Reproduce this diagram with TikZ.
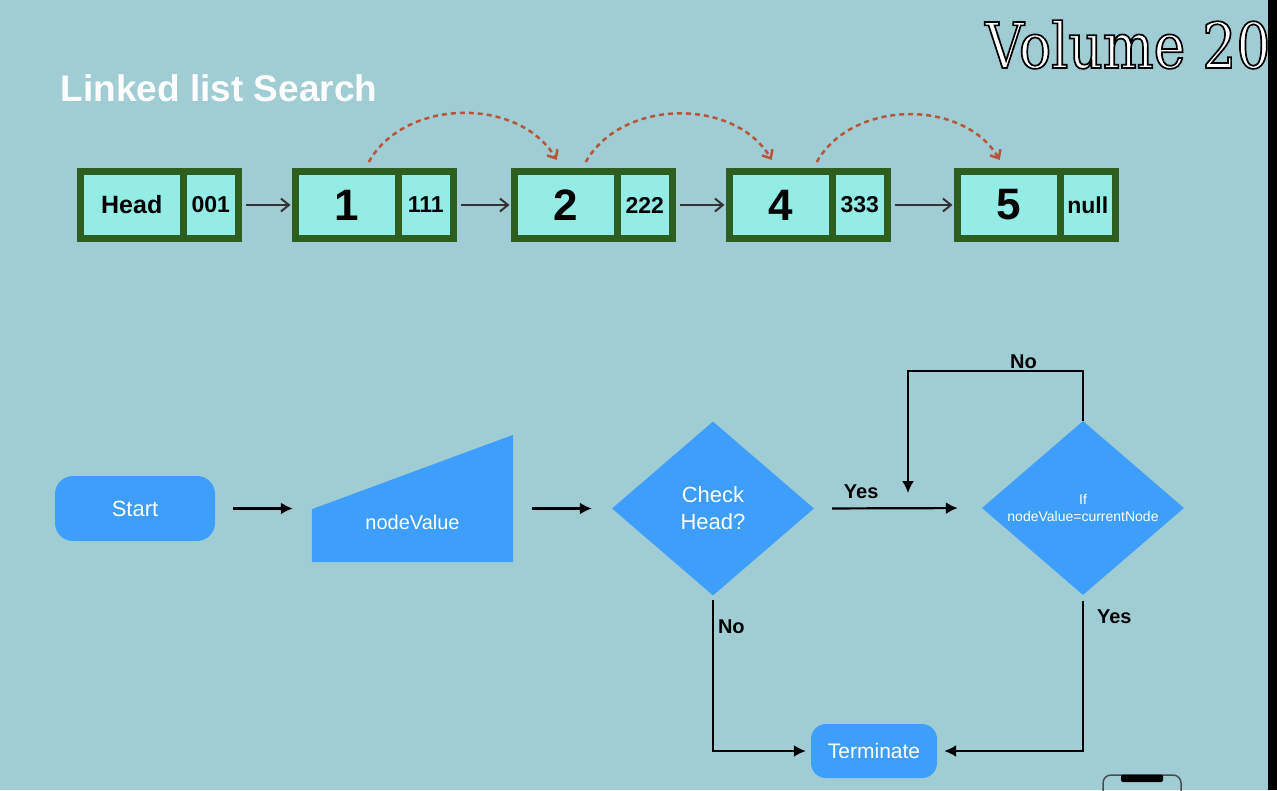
\documentclass[tikz,border=0pt]{standalone}
\usepackage{fontspec}
\setmainfont{Liberation Sans}
\newfontfamily\wmfont[FakeStretch=0.85]{DejaVu Serif}
\usepackage{tikz}
\usetikzlibrary{positioning,arrows.meta,shapes.geometric}

\definecolor{bgteal}{HTML}{A0CDD4}
\definecolor{cellfill}{HTML}{93ECE6}
\definecolor{cellgreen}{HTML}{2D5E20}
\definecolor{flowblue}{HTML}{3D9EFC}
\definecolor{hopred}{HTML}{B85438}
\newcommand{\outlinetext}[1]{\special{pdf:literal direct 2 Tr 1.7 w 0 0 0 RG}#1\special{pdf:literal direct 0 Tr 1 w}}

\begin{document}
\begin{tikzpicture}[
  x=1pt, y=-1pt,
  cell/.style={draw=cellgreen, fill=cellfill, line width=7pt, inner sep=0pt,
               outer sep=0pt, minimum height=67pt},
  datacell/.style={cell, minimum width=102.5pt},
  ptrcell/.style={cell, minimum width=55.5pt, font=\fontsize{23}{23}\selectfont\bfseries},
  listarrow/.style={-{Straight Barb[length=8pt,width=13pt]}, line width=2pt, draw=black!80},
  hop/.style={-{Straight Barb[length=7pt,width=12pt]}, line width=2.5pt, draw=hopred,
              dash pattern=on 5pt off 4pt},
  terminal/.style={fill=flowblue, rounded corners=18pt, text=white, inner sep=0pt,
                   minimum width=160pt, minimum height=65pt, font=\fontsize{22}{26}\selectfont},
  decision/.style={diamond, aspect=1.16, fill=flowblue, text=white, align=center,
                   inner sep=0pt, minimum width=202pt, minimum height=174pt},
  flowtext/.style={text=white, inner sep=0pt, font=\fontsize{20}{24}\selectfont},
  edgelabel/.style={text=black, inner sep=1pt, font=\fontsize{20}{24}\selectfont\bfseries},
  flow/.style={-{Latex[length=12pt,width=12pt]}, line width=2.2pt, draw=black},
  wmark/.style={anchor=base west, inner sep=0pt, font=\fontsize{63}{63}\wmfont},
]
\useasboundingbox (0,0) rectangle (1277,790);
\fill[bgteal] (0,0) rectangle (1277,790);

% title
\node[text=white, inner sep=0pt, font=\fontsize{37}{40}\selectfont\bfseries] (ttl) at (219,88) {Linked list Search};

% linked list
\foreach \nm/\val/\ptr/\xl/\fs in {head/Head/001/77/25, n1/1/111/292/44, n2/2/222/511/44,
                                    n4/4/333/726/44, n5/5/null/954/44} {
  \node[datacell, font=\fontsize{\fs}{\fs}\selectfont\bfseries, anchor=west] (\nm) at (\xl+3.5,205) {\val};
  \node[ptrcell, right=0pt of \nm] (\nm p) {\ptr};
}
\foreach \a/\b in {head/n1, n1/n2, n2/n4, n4/n5}
  \draw[listarrow, shorten <=7.5pt, shorten >=5pt] (\a p) -- (\b);
\foreach \a/\b/\s in {n1/n2/22, n2/n4/20, n4/n5/36}
  \draw[hop] ([xshift=\s pt, yshift=9.5pt]\a.north) to[bend left=60] ([xshift=-9pt, yshift=11.5pt]\b.north);

% flowchart
\node[terminal] (start) at (135,508.5) {Start};
\node[inner sep=0pt, minimum width=201pt, minimum height=127pt] (nodeval) at (412.5,498.5) {};
\fill[flowblue] (nodeval.south west) -- (nodeval.south east) -- (nodeval.north east)
  -- ([yshift=53pt]nodeval.south west) -- cycle;
\node[flowtext] (nodevaltxt) at ([yshift=-23.5pt]nodeval.center) {nodeValue};
\node[decision, font=\fontsize{22}{27}\selectfont] (check) at (713,508.5) {Check\\Head?};
\node[decision, font=\fontsize{14}{17}\selectfont] (ifnode) at (1083,508) {If\\nodeValue=currentNode};
\node[terminal, minimum width=126pt, minimum height=54pt, rounded corners=15pt,
      font=\fontsize{21}{25}\selectfont] (term) at (874,751) {Terminate};
\coordinate (loopend) at (908,493);

\draw[flow, shorten <=18pt, shorten >=19pt] (start.east) -- (start.east -| nodeval.west);
\draw[flow, shorten <=19pt, shorten >=20pt] (check.west -| nodeval.east) -- (check.west);
\draw[flow, shorten <=18pt, shorten >=24pt] (check.east)
  -- node[pos=0.28, above=8pt, edgelabel] (yeslbl) {Yes} (ifnode.west);
\draw[flow, line width=2pt] (ifnode.north) -- ++(0,-50)
  -| node[pos=0.17, above=0pt, edgelabel] (loopno) {No} (loopend);
\draw[flow, line width=2pt, shorten <=4pt, shorten >=5pt] (check.south)
  |- node[pos=0.1, right=3pt, edgelabel] (nolbl) {No} (term.west);
\draw[flow, line width=2pt, shorten <=6pt, shorten >=7pt] (ifnode.south)
  |- node[pos=0.07, right=12pt, edgelabel] (yeslbl2) {Yes} (term.east);

% overlay
\node[wmark, text=white] (vol) at (985,68) {\outlinetext{Volume 20}};
\fill[black] (1268,0) rectangle (1280,790);
\draw[draw=black!70, line width=1.5pt, rounded corners=8pt] (1103,795) -- (1103,775) -- (1181,775) -- (1181,795);
\fill[black, rounded corners=2pt] (1121,774.5) rectangle (1163,782);
\end{tikzpicture}
\end{document}
